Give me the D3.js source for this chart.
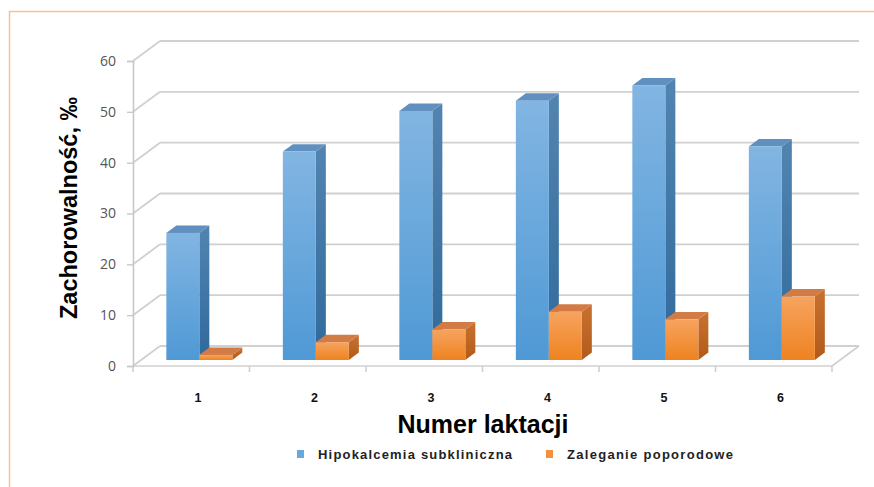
<!DOCTYPE html>
<html>
<head>
<meta charset="utf-8">
<script src="https://cdn.jsdelivr.net/npm/d3@7"></script>
<style>
  html, body { margin: 0; padding: 0; background: #ffffff; }
  svg { display: block; }
</style>
</head>
<body>
<svg id="chart" width="874" height="487"></svg>
<script>
// Lactation numbers and incidence (per mille) of the two conditions
const categories = ["1", "2", "3", "4", "5", "6"];
const seriesNames = ["Hipokalcemia subkliniczna", "Zaleganie poporodowe"];
const hipokalcemia = [25, 41, 49, 51, 54, 42];
const zaleganie = [1, 3.5, 6, 9.5, 8, 12.5];
const yTicks = [0, 10, 20, 30, 40, 50, 60];
const yTitle = "Zachorowalność, ‰";
const xTitle = "Numer laktacji";

const seriesValues = [hipokalcemia, zaleganie];

const svg = d3.select("#chart");

// Plot geometry: front plane of the box and the oblique depth offset
const left = 133, right = 832, base = 366;
const depthX = 27, depthY = 20;
const barZ0 = 0.3, barZ1 = 0.67;

const x0 = d3.scaleBand().domain(categories).range([left, right]).paddingInner(0).paddingOuter(0);
const x1 = d3.scaleBand().domain(seriesNames).range([0, x0.bandwidth()]).paddingInner(0).paddingOuter(0.765);
const h = d3.scaleLinear().domain([0, 60]).range([0, 305]);
const yFront = d3.scaleLinear().domain([0, 60]).range([base, base - 305]);

// project a point at front-plane coordinates (x, y) back into depth z (0..1)
const P = (x, y, z) => [x + z * depthX, y - z * depthY];

// Frame
svg.append("path")
  .attr("d", "M9.5,487 L9.5,11.5 L874,11.5")
  .attr("fill", "none").attr("stroke", "#f6c197").attr("stroke-width", 1.5);

// Gradients for bar faces
const defs = svg.append("defs");
function grad(id, c1, c2) {
  const g = defs.append("linearGradient").attr("id", id)
    .attr("x1", 0).attr("y1", 0).attr("x2", 0).attr("y2", 1);
  g.append("stop").attr("offset", "0%").attr("stop-color", c1);
  g.append("stop").attr("offset", "100%").attr("stop-color", c2);
}
grad("blueFront", "#82b5e2", "#4f99d5");
grad("blueSide", "#5284b0", "#2f6a9c");
grad("orangeFront", "#f7a35f", "#ee8320");
grad("orangeSide", "#c9722f", "#b15a1b");
const faces = [
  { front: "url(#blueFront)", side: "url(#blueSide)", top: "#5f90c0" },
  { front: "url(#orangeFront)", side: "url(#orangeSide)", top: "#d27b45" }
];

// Back wall gridlines and left wall diagonals
const grid = svg.append("g").attr("stroke", "#d0d0d0").attr("stroke-width", 1.8).attr("fill", "none");
yTicks.forEach(v => {
  const y = yFront(v);
  const a = P(left, y, 1), b = P(right, y, 1);
  grid.append("line").attr("x1", a[0]).attr("y1", a[1]).attr("x2", b[0]).attr("y2", b[1]);
  grid.append("line").attr("x1", left).attr("y1", y).attr("x2", a[0]).attr("y2", a[1]);
});

// Floor: front edge, right edge, category tick marks
const floor = svg.append("g").attr("stroke", "#d0d0d0").attr("stroke-width", 1.6).attr("fill", "none");
const fr = P(right, base, 1);
floor.append("line").attr("x1", left).attr("y1", base).attr("x2", right).attr("y2", base);
floor.append("line").attr("x1", right).attr("y1", base).attr("x2", fr[0]).attr("y2", fr[1]);
const boundaries = categories.map(c => x0(c)).concat([right]);
boundaries.forEach(x => {
  floor.append("line").attr("x1", x).attr("y1", base).attr("x2", x).attr("y2", base + 6);
});

// Value axis on the front plane
const yAxis = svg.append("g")
  .attr("transform", `translate(${left},0)`)
  .call(d3.axisLeft(yFront).tickValues(yTicks).tickSize(6).tickPadding(11));
yAxis.select(".domain").attr("stroke", "#c8c8c8").attr("stroke-width", 1.6);
yAxis.selectAll(".tick line").attr("stroke", "#c8c8c8").attr("stroke-width", 1.4);
yAxis.selectAll(".tick text")
  .attr("fill", "#555")
  .attr("font-family", "'Open Sans', 'Liberation Sans', Arial, sans-serif")
  .attr("font-size", 14);

// Bars: front face, right side face, top face
const bars = svg.append("g");
categories.forEach((c, i) => {
  seriesNames.forEach((s, j) => {
    const v = seriesValues[j][i];
    const xa = x0(c) + x1(s), xb = xa + x1.bandwidth();
    const yb = base, yt = base - h(v);
    const f = faces[j];
    const fBL = P(xa, yb, barZ0), fBR = P(xb, yb, barZ0), fTL = P(xa, yt, barZ0), fTR = P(xb, yt, barZ0);
    const bBR = P(xb, yb, barZ1), bTL = P(xa, yt, barZ1), bTR = P(xb, yt, barZ1);
    const g = bars.append("g");
    g.append("path")
      .attr("d", `M${fBR}L${bBR}L${bTR}L${fTR}Z`)
      .attr("fill", f.side);
    g.append("path")
      .attr("d", `M${fTL}L${fTR}L${bTR}L${bTL}Z`)
      .attr("fill", f.top);
    g.append("rect")
      .attr("x", fTL[0]).attr("y", fTL[1])
      .attr("width", fTR[0] - fTL[0]).attr("height", fBL[1] - fTL[1])
      .attr("fill", f.front);
  });
});

// Category labels
svg.append("g").selectAll("text").data(categories).join("text")
  .attr("x", d => P(x0(d) + x0.bandwidth() / 2, base, 0.25)[0])
  .attr("y", 402)
  .attr("text-anchor", "middle")
  .attr("font-family", "'Liberation Sans', Arial, sans-serif")
  .attr("font-weight", "bold")
  .attr("font-size", 12.5)
  .attr("fill", "#111")
  .text(d => d);

// Axis titles
svg.append("text")
  .attr("x", 483).attr("y", 433)
  .attr("text-anchor", "middle")
  .attr("font-family", "'Liberation Sans', Arial, sans-serif")
  .attr("font-weight", "bold")
  .attr("font-size", 25)
  .attr("fill", "#000")
  .text(xTitle);

svg.append("text")
  .attr("transform", "translate(77,208) rotate(-90)")
  .attr("text-anchor", "middle")
  .attr("font-family", "'Liberation Sans', Arial, sans-serif")
  .attr("font-weight", "bold")
  .attr("font-size", 23.5)
  .attr("fill", "#000")
  .text(yTitle);

// Legend
const legendX = [297, 546];
const legendTextWidth = [194, 166];
const legend = svg.append("g");
seriesNames.forEach((s, j) => {
  legend.append("rect")
    .attr("x", legendX[j]).attr("y", 450).attr("width", 7).attr("height", 8)
    .attr("fill", j === 0 ? "#6aa7dc" : "#f2913e");
  legend.append("text")
    .attr("x", legendX[j] + 21).attr("y", 459)
    .attr("font-family", "'Liberation Sans', Arial, sans-serif")
    .attr("font-weight", "bold")
    .attr("font-size", 13)
    .attr("textLength", legendTextWidth[j])
    .attr("lengthAdjust", "spacing")
    .attr("fill", "#222")
    .text(s);
});
</script>
</body>
</html>
